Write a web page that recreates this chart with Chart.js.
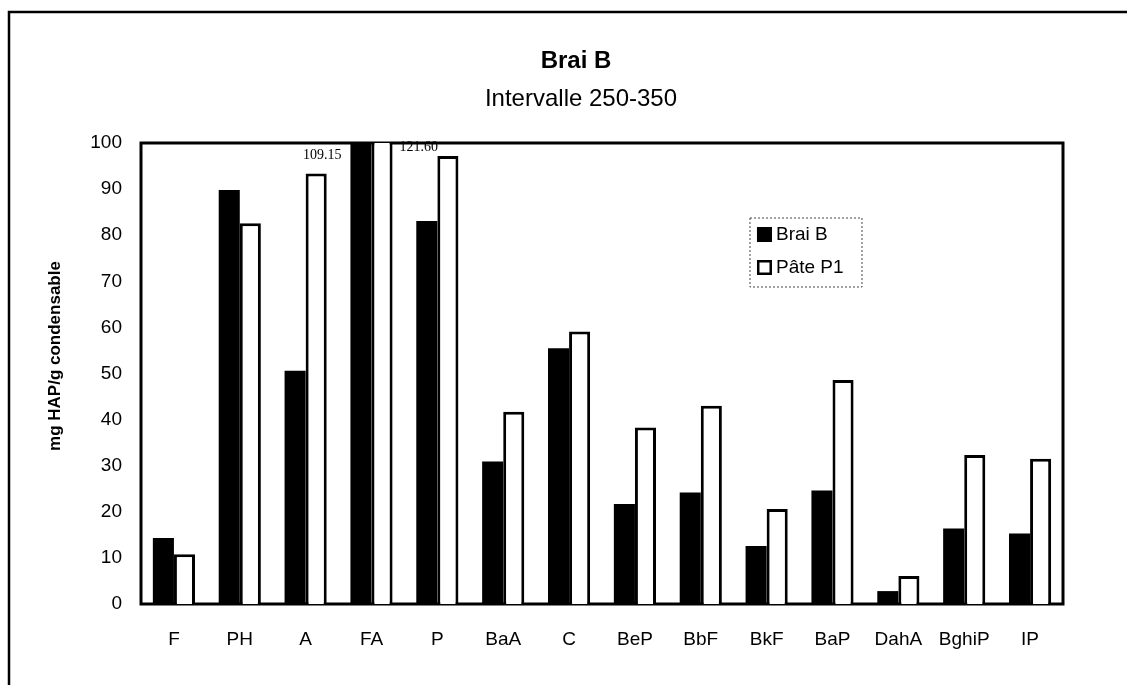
<!DOCTYPE html>
<html>
<head>
<meta charset="utf-8">
<title>Brai B</title>
<script src="https://cdn.jsdelivr.net/npm/chart.js@4/dist/chart.umd.min.js"></script>
<style>
    html, body { margin: 0; padding: 0; background: #fff; }
    #wrap { position: relative; width: 1127px; height: 685px; }
</style>
</head>
<body>
<div id="wrap"><canvas id="barChart" width="1127" height="685"></canvas></div>
<script>
// Chart values
const categories = ['F', 'PH', 'A', 'FA', 'P', 'BaA', 'C', 'BeP', 'BbF', 'BkF', 'BaP', 'DahA', 'BghiP', 'IP'];
const braiB = [14.3, 89.8, 50.6, 109.15, 83.1, 30.9, 55.5, 21.7, 24.2, 12.6, 24.6, 2.8, 16.4, 15.3];
const pateP1 = [10.8, 82.6, 93.4, 121.60, 97.2, 41.7, 59.1, 38.3, 43.0, 20.6, 48.6, 6.1, 32.3, 31.5];
const yTicks = [0, 10, 20, 30, 40, 50, 60, 70, 80, 90, 100];
const overflowLabels = ['109.15', '121.60'];
const overflowIndex = 3;

const titleText = 'Brai B';
const subtitleText = 'Intervalle 250-350';
const yTitleText = 'mg HAP/g condensable';

document.addEventListener('DOMContentLoaded', function() {
    const ctx = document.getElementById('barChart').getContext('2d');
    const sans = "'Liberation Sans', Arial, sans-serif";

    // frame, titles, plot box, legend and the overflow values
    const decorations = {
        id: 'decorations',
        beforeDraw(chart) {
            const c = chart.ctx;
            c.save();
            c.fillStyle = '#fff';
            c.fillRect(0, 0, chart.width, chart.height);
            c.strokeStyle = '#000';
            c.lineWidth = 2.5;
            c.beginPath();
            c.moveTo(9, chart.height);
            c.lineTo(9, 12);
            c.lineTo(chart.width, 12);
            c.stroke();

            c.fillStyle = '#000';
            c.textAlign = 'center';
            c.textBaseline = 'middle';
            c.font = 'bold 24px ' + sans;
            c.fillText(titleText, 576, 61);
            c.font = '24px ' + sans;
            c.fillText(subtitleText, 581, 99);

            // rotated y title
            c.translate(55, 356);
            c.rotate(-Math.PI / 2);
            c.font = 'bold 17px ' + sans;
            c.fillText(yTitleText, 0, 0);
            c.restore();
        },
        beforeDatasetsDraw(chart) {
            const a = chart.chartArea;
            const c = chart.ctx;
            c.save();
            c.strokeStyle = '#000';
            c.lineWidth = 3;
            c.strokeRect(a.left, a.top, a.right - a.left, a.bottom - a.top);
            c.restore();
        },
        afterDatasetsDraw(chart) {
            const a = chart.chartArea;
            const c = chart.ctx;
            c.save();

            // values of the clipped FA bars
            c.fillStyle = '#000';
            c.font = "14px 'Liberation Serif', 'Times New Roman', serif";
            c.textBaseline = 'middle';
            const b0 = chart.getDatasetMeta(0).data[overflowIndex].getProps(['x', 'width'], true);
            const b1 = chart.getDatasetMeta(1).data[overflowIndex].getProps(['x', 'width'], true);
            c.textAlign = 'right';
            c.fillText(overflowLabels[0], b0.x - b0.width / 2 - 9, a.top + 12);
            c.textAlign = 'left';
            c.fillText(overflowLabels[1], b1.x + b1.width / 2 + 7, a.top + 4);

            // legend box inside the plot
            const w = a.right - a.left;
            const lx = a.left + w * 0.6605;
            const ly = a.top + 75;
            c.strokeStyle = '#444';
            c.lineWidth = 1;
            c.setLineDash([2, 2]);
            c.strokeRect(lx, ly, 112, 69);
            c.setLineDash([]);
            c.font = '19px ' + sans;
            chart.data.datasets.forEach(function(ds, i) {
                const sy = ly + 9 + i * 33;
                c.fillStyle = ds.backgroundColor;
                c.fillRect(lx + 7, sy, 15, 15);
                c.strokeStyle = '#000';
                c.lineWidth = 2.5;
                c.strokeRect(lx + 8.25, sy + 1.25, 12.5, 12.5);
                c.fillStyle = '#000';
                c.textAlign = 'left';
                c.fillText(ds.label, lx + 26, sy + 8);
            });
            c.restore();
        }
    };

    const barChart = new Chart(ctx, {
        type: 'bar',
        data: {
            labels: categories,
            datasets: [{
                label: 'Brai B',
                data: braiB,
                backgroundColor: '#000',
                borderColor: '#000',
                borderWidth: 0,
                clip: 0
            }, {
                label: 'Pâte P1',
                data: pateP1,
                backgroundColor: '#fff',
                borderColor: '#000',
                borderWidth: 3,
                clip: 0
            }]
        },
        options: {
            responsive: false,
            animation: false,
            events: [],
            layout: {
                padding: { top: 143, right: 64, bottom: 0, left: 0 }
            },
            datasets: {
                bar: { barPercentage: 1, categoryPercentage: 0.64 }
            },
            plugins: {
                legend: { display: false },
                title: { display: false },
                tooltip: { enabled: false }
            },
            scales: {
                x: {
                    grid: { display: false },
                    border: { display: false },
                    ticks: {
                        color: '#000',
                        padding: 16,
                        maxRotation: 0,
                        autoSkip: false,
                        font: { family: sans, size: 19 }
                    },
                    afterFit(scale) { scale.height = 81; }
                },
                y: {
                    min: 0,
                    max: 100,
                    afterBuildTicks(scale) {
                        scale.ticks = yTicks.map(v => ({ value: v }));
                    },
                    grid: { display: false },
                    border: { display: false },
                    ticks: {
                        color: '#000',
                        padding: 11,
                        font: { family: sans, size: 19 }
                    },
                    afterFit(scale) { scale.width = 141; }
                }
            }
        },
        plugins: [decorations]
    });
});
</script>
</body>
</html>
